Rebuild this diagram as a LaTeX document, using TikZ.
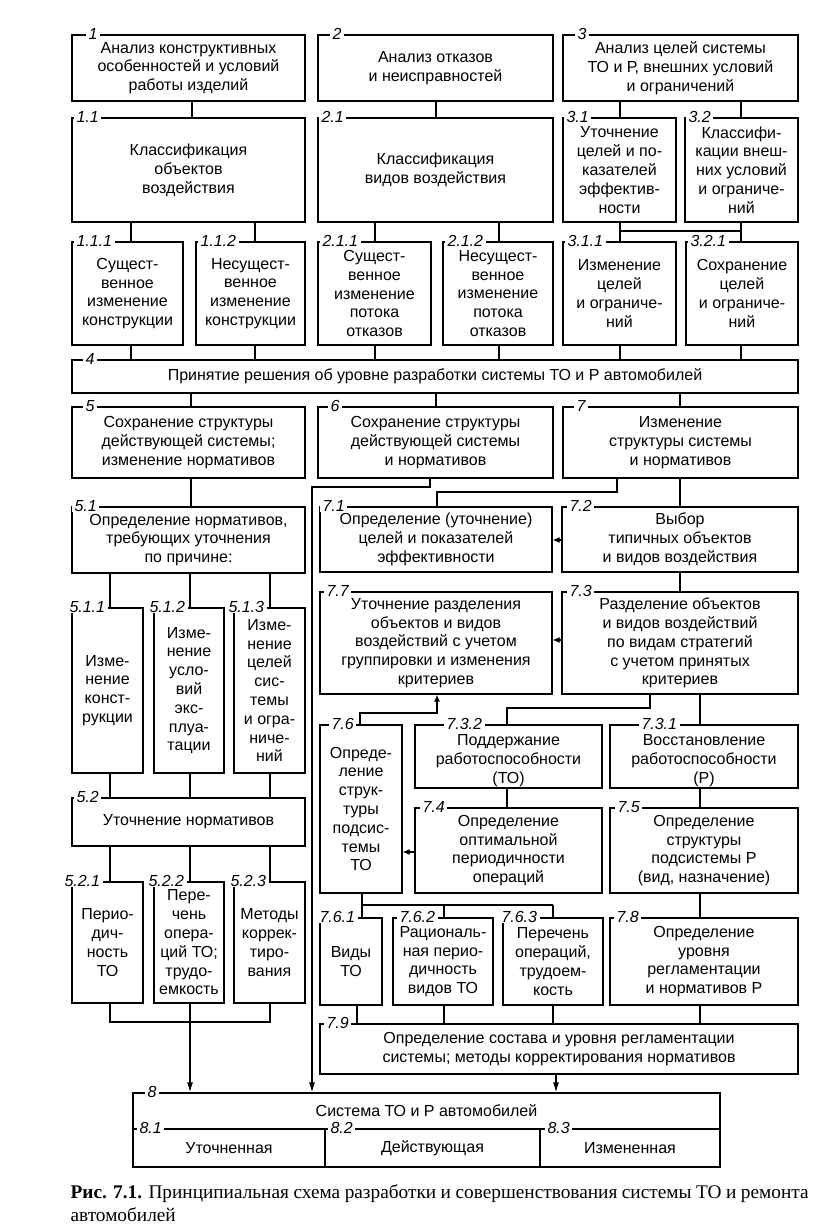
\documentclass[tikz,border=0pt]{standalone}
\usepackage{fontspec}
\setmainfont{Liberation Sans}
\newfontfamily\capfont{Liberation Serif}
\usetikzlibrary{arrows.meta}
\tikzset{
  bx/.style={draw, line width=1.2pt, inner sep=0pt, align=center, font=\fontsize{16}{18.8}\selectfont},
  bxtext/.style={inner sep=0pt, align=center, font=\fontsize{16}{18.8}\selectfont},
  lbl/.style={fill=white, inner xsep=2.5pt, inner ysep=0pt, anchor=west, font=\fontsize{16}{16}\selectfont\itshape},
  arr/.style={-{Latex[length=10pt,width=6pt]}},
  sarr/.style={-{Latex[length=7pt,width=6pt]}},
}
\newcommand\mkbox[8]{%
  \node[bx, minimum width={(#4-#2)*1pt}, minimum height={(#5-#3)*1pt}] (#1) at ({(#2+#4)/2},{(#3+#5)/2}) {#8};
  \node[lbl] (#1l) at ([xshift=#7pt]#1.north west) {#6};
}
% box whose text sits a little lower than the centre
\newcommand\mkboxlow[8]{%
  \node[bx, minimum width={(#4-#2)*1pt}, minimum height={(#5-#3)*1pt}] (#1) at ({(#2+#4)/2},{(#3+#5)/2}) {};
  \node[bxtext] (#1t) at ([yshift=-4pt]#1.center) {#8};
  \node[lbl] (#1l) at ([xshift=#7pt]#1.north west) {#6};
}
\begin{document}
\begin{tikzpicture}[x=1pt, y=-1pt, line width=1.2pt]
\useasboundingbox (0,0) rectangle (839,1228);
% row 1
\mkbox{b1}{72}{35}{305}{101}{1}{14}{Анализ конструктивных\\особенностей и условий\\работы изделий}
\mkbox{b2}{318}{35}{553}{101}{2}{12}{Анализ отказов\\и неисправностей}
\mkbox{b3}{563}{35}{798}{101}{3}{12}{Анализ целей системы\\ТО и Р, внешних условий\\и ограничений}
% row 2
\mkbox{b11}{72}{118}{305}{222}{1.1}{2}{Классификация\\объектов\\воздействия}
\mkbox{b21}{318}{118}{553}{222}{2.1}{1}{Классификация\\видов воздействия}
\mkbox{b31}{563}{118}{676}{222}{3.1}{1}{Уточнение\\целей и по-\\казателей\\эффектив-\\ности}
\mkbox{b32}{685}{118}{798}{222}{3.2}{1}{Классифи-\\кации внеш-\\них условий\\и ограниче-\\ний}
% row 3
\mkbox{b111}{72}{242}{183}{345}{1.1.1}{2}{Сущест-\\венное\\изменение\\конструкции}
\mkbox{b112}{196}{242}{305}{345}{1.1.2}{2}{Несущест-\\венное\\изменение\\конструкции}
\mkbox{b211}{318}{242}{431}{345}{2.1.1}{2}{Сущест-\\венное\\изменение\\потока\\отказов}
\mkbox{b212}{443}{242}{553}{345}{2.1.2}{2}{Несущест-\\венное\\изменение\\потока\\отказов}
\mkbox{b311}{563}{242}{676}{345}{3.1.1}{2}{Изменение\\целей\\и ограниче-\\ний}
\mkbox{b321}{686}{242}{798}{345}{3.2.1}{2}{Сохранение\\целей\\и ограниче-\\ний}
% row 4
\mkbox{b4}{72}{360}{798}{393}{4}{11}{Принятие решения об уровне разработки системы ТО и Р автомобилей}
% row 5
\mkbox{b5}{72}{407}{305}{478}{5}{11}{Сохранение структуры\\действующей системы;\\изменение нормативов}
\mkbox{b6}{318}{407}{553}{478}{6}{10}{Сохранение структуры\\действующей системы\\и нормативов}
\mkbox{b7}{563}{407}{798}{478}{7}{11}{Изменение\\структуры системы\\и нормативов}
% left lower
\mkbox{b51}{72}{507}{305}{573}{5.1}{0}{Определение нормативов,\\требующих уточнения\\по причине:}
\mkbox{b511}{72}{608}{143}{773}{5.1.1}{-5}{Изме-\\нение\\конст-\\рукции}
\mkbox{b512}{154}{608}{224}{773}{5.1.2}{-7}{Изме-\\нение\\усло-\\вий\\экс-\\плуа-\\тации}
\mkbox{b513}{234}{608}{305}{773}{5.1.3}{-8}{Изме-\\нение\\целей\\сис-\\темы\\и огра-\\ниче-\\ний}
\mkbox{b52}{72}{798}{305}{846}{5.2}{2}{Уточнение нормативов}
\mkbox{b521}{72}{882}{143}{1003}{5.2.1}{-10}{Перио-\\дич-\\ность\\ТО}
\mkbox{b522}{154}{882}{224}{1003}{5.2.2}{-8}{Пере-\\чень\\опера-\\ций ТО;\\трудо-\\емкость}
\mkbox{b523}{234}{882}{305}{1003}{5.2.3}{-6}{Методы\\коррек-\\тиро-\\вания}
% right lower
\mkbox{b71}{320}{507}{552}{572}{7.1}{0}{Определение (уточнение)\\целей и показателей\\эффективности}
\mkbox{b72}{562}{507}{798}{572}{7.2}{5}{Выбор\\типичных объектов\\и видов воздействия}
\mkbox{b77}{320}{592}{552}{694}{7.7}{4}{Уточнение разделения\\объектов и видов\\воздействий с учетом\\группировки и изменения\\критериев}
\mkbox{b73}{562}{592}{798}{694}{7.3}{5}{Разделение объектов\\и видов воздействий\\по видам стратегий\\с учетом принятых\\критериев}
\mkbox{b76}{320}{725}{402}{893}{7.6}{9}{Опреде-\\ление\\струк-\\туры\\подсис-\\темы\\ТО}
\mkboxlow{b732}{415}{725}{602}{788}{7.3.2}{29}{Поддержание\\работоспособности\\(ТО)}
\mkboxlow{b731}{610}{725}{798}{788}{7.3.1}{29}{Восстановление\\работоспособности\\(Р)}
\mkbox{b74}{415}{808}{602}{893}{7.4}{5}{Определение\\оптимальной\\периодичности\\операций}
\mkbox{b75}{610}{808}{798}{893}{7.5}{5}{Определение\\структуры\\подсистемы Р\\(вид, назначение)}
\mkbox{b761}{320}{918}{382}{1005}{7.6.1}{-3}{Виды\\ТО}
\mkbox{b762}{393}{918}{493}{1005}{7.6.2}{4}{Рациональ-\\ная перио-\\дичность\\видов ТО}
\mkbox{b763}{503}{918}{603}{1005}{7.6.3}{-4}{Перечень\\операций,\\трудоем-\\кость}
\mkbox{b78}{610}{918}{798}{1005}{7.8}{4}{Определение\\уровня\\регламентации\\и нормативов Р}
\mkbox{b79}{320}{1024}{798}{1074}{7.9}{4}{Определение состава и уровня регламентации\\системы; методы корректирования нормативов}
% box 8
\mkbox{b8}{133}{1093}{720}{1129}{8}{12}{Система ТО и Р автомобилей}
\mkbox{b81}{133}{1129}{325}{1167}{8.1}{4}{Уточненная}
\mkbox{b82}{325}{1129}{540}{1167}{8.2}{3}{Действующая}
\mkbox{b83}{540}{1129}{720}{1167}{8.3}{5}{Измененная}
% connectors top
\draw (b1.south-|192,0) -- (b11.north-|192,0);
\draw (b2.south-|436,0) -- (b21.north-|436,0);
\draw (b3.south-|620,0) -- (b31.north-|620,0);
\draw (b3.south-|741,0) -- (b32.north-|741,0);
\draw (b11.south-|131,0) -- (b111.north-|131,0);
\draw (b11.south-|255,0) -- (b112.north-|255,0);
\draw (b21.south-|375,0) -- (b211.north-|375,0);
\draw (b21.south-|499,0) -- (b212.north-|499,0);
\draw (b31.south-|620,0) -- (b311.north-|620,0);
\draw (b32.south-|741,0) -- (b321.north-|741,0);
\draw (620,231) -- (741,231);
\draw (b111.south-|131,0) -- (b4.north-|131,0);
\draw (b112.south-|255,0) -- (b4.north-|255,0);
\draw (b211.south-|375,0) -- (b4.north-|375,0);
\draw (b212.south-|499,0) -- (b4.north-|499,0);
\draw (b311.south-|620,0) -- (b4.north-|620,0);
\draw (b321.south-|741,0) -- (b4.north-|741,0);
\draw (b4.south-|191,0) -- (b5.north-|191,0);
\draw (b4.south-|436,0) -- (b6.north-|436,0);
\draw (b4.south-|680,0) -- (b7.north-|680,0);
% left branch
\draw (b5.south-|191,0) -- (b51.north-|191,0);
\draw (b51.south-|110,0) -- (b511.north-|110,0);
\draw (b51.south-|190,0) -- (b512.north-|190,0);
\draw (b51.south-|270,0) -- (b513.north-|270,0);
\draw (b511.south-|110,0) -- (b52.north-|110,0);
\draw (b512.south-|190,0) -- (b52.north-|190,0);
\draw (b513.south-|270,0) -- (b52.north-|270,0);
\draw (b52.south-|110,0) -- (b521.north-|110,0);
\draw (b52.south-|190,0) -- (b522.north-|190,0);
\draw (b52.south-|270,0) -- (b523.north-|270,0);
\draw (b521.south-|110,0) -- (110,1022) -- (270,1022) -- (b523.south-|270,0);
\draw (b522.south-|190,0) -- (190,1022);
\draw[arr] (190,1022) -- (b8.north-|190,0);
% middle branch
\draw[arr] (b6.south-|430,0) -- (430,487) -- (312,487) -- (b8.north-|312,0);
% right branch
\draw (b7.south-|617,0) -- (617,492) -- (437,492) -- (b71.north-|437,0);
\draw (b7.south-|680,0) -- (b72.north-|680,0);
\draw[sarr] (b72.west|-0,540) -- (b71.east|-0,540);
\draw (b72.south-|680,0) -- (b73.north-|680,0);
\draw[sarr] (b73.west|-0,640) -- (b77.east|-0,640);
\draw (b73.south-|650,0) -- (650,708) -- (507,708) -- (b732.north-|507,0);
\draw (b73.south-|700,0) -- (b731.north-|700,0);
\draw (b732.south-|507,0) -- (b74.north-|507,0);
\draw (b731.south-|700,0) -- (b75.north-|700,0);
\draw[sarr] (b74.west|-0,852) -- (b76.east|-0,852);
\draw[sarr] (b76.north-|360,0) -- (360,713) -- (437,713) -- (b77.south-|437,0);
\draw (b76.south-|362,0) -- (b761.north-|362,0);
\draw (362,905) -- (553,905);
\draw (444,905) -- (b762.north-|444,0);
\draw (553,905) -- (b763.north-|553,0);
\draw (b75.south-|700,0) -- (b78.north-|700,0);
\draw (b761.south-|357,0) -- (b79.north-|357,0);
\draw (b762.south-|444,0) -- (b79.north-|444,0);
\draw (b763.south-|553,0) -- (b79.north-|553,0);
\draw (b78.south-|700,0) -- (b79.north-|700,0);
\draw[arr] (b79.south-|556,0) -- (b8.north-|556,0);
% caption
\node[anchor=north west, inner sep=0pt, align=left, font=\capfont\fontsize{19.3}{23.5}\selectfont] (cap) at (70,1184) {\makebox[738pt][s]{\textbf{Рис. 7.1.} Принципиальная схема разработки и совершенствования системы ТО и ремонта}\\автомобилей};
\end{tikzpicture}
\end{document}
